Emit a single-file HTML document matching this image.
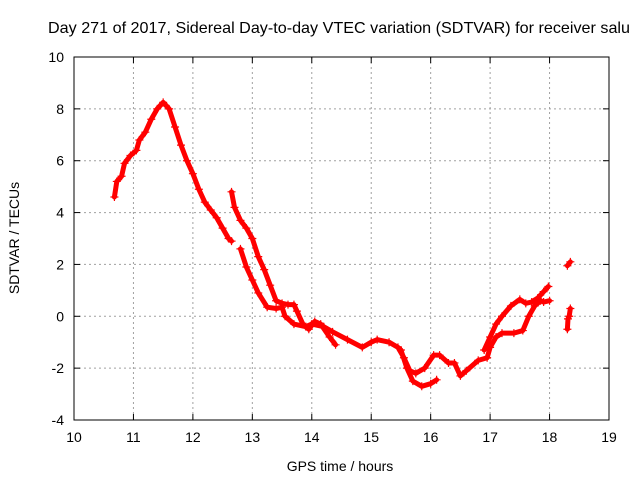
<!DOCTYPE html>
<html><head><meta charset="utf-8"><style>
html,body{margin:0;padding:0;background:#fff}
svg{display:block;font-family:"Liberation Sans",sans-serif}
</style></head><body>
<svg id="chart" width="640" height="480" viewBox="0 0 640 480" xmlns="http://www.w3.org/2000/svg">
<text x="48" y="33" font-size="16" textLength="582" lengthAdjust="spacingAndGlyphs" fill="#000">Day 271 of 2017, Sidereal Day-to-day VTEC variation (SDTVAR) for receiver salu</text>
<text x="340" y="471" font-size="14" text-anchor="middle">GPS time / hours</text>
<text transform="translate(19,238) rotate(-90)" font-size="14" text-anchor="middle">SDTVAR / TECUs</text>
<g id="grid"></g>
<g id="ticks"></g>
<g id="series"></g>
<rect x="74" y="57" width="535" height="363" fill="none" stroke="#000" stroke-width="1"/>
</svg>
<script>
const xTicks=[10,11,12,13,14,15,16,17,18,19];
const yTicks=[-4,-2,0,2,4,6,8,10];
const segA_t=[10.68,10.72,10.8,10.85,10.95,11.05,11.1,11.2,11.3,11.4,11.5,11.6,11.7,11.8,11.9,12.0,12.1,12.2,12.3,12.4,12.5,12.6,12.65];
const segA_v=[4.6,5.2,5.4,5.9,6.2,6.4,6.8,7.1,7.6,8.0,8.25,8.0,7.3,6.6,6.0,5.5,4.9,4.4,4.1,3.8,3.4,3.0,2.9];
const segB_t=[12.65,12.7,12.8,12.9,13.0,13.1,13.2,13.3,13.4,13.5,13.6,13.7,13.75,13.85,13.95,14.05,14.15,14.3,14.4];
const segB_v=[4.8,4.2,3.7,3.4,3.0,2.3,1.8,1.2,0.6,0.5,0.45,0.45,0.2,-0.3,-0.5,-0.2,-0.3,-0.8,-1.1];
const segC_t=[12.8,12.9,13.0,13.1,13.25,13.4,13.5,13.55,13.7,13.9,14.0,14.2,14.35,14.6,14.85,15.0,15.1,15.3,15.45,15.55,15.65,15.75,15.9,16.05,16.15,16.3,16.4,16.5,16.6,16.8,16.95,17.0,17.1,17.2,17.4,17.55,17.65,17.75,17.85,17.9,18.0];
const segC_v=[2.6,1.9,1.4,0.9,0.35,0.3,0.35,0.0,-0.3,-0.4,-0.3,-0.4,-0.6,-0.9,-1.2,-1.0,-0.9,-1.0,-1.2,-1.6,-2.1,-2.2,-2.0,-1.5,-1.5,-1.8,-1.8,-2.3,-2.1,-1.7,-1.6,-1.2,-0.8,-0.65,-0.65,-0.55,0.0,0.4,0.6,0.55,0.6];
const segD_t=[15.5,15.6,15.7,15.85,16.0,16.1];
const segD_v=[-1.3,-2.0,-2.5,-2.7,-2.6,-2.45];
const segE_t=[16.9,17.0,17.1,17.2,17.35,17.5,17.6,17.7,17.8,17.9,17.98];
const segE_v=[-1.3,-0.8,-0.3,0.0,0.4,0.65,0.5,0.55,0.7,0.95,1.15];
const segF_t=[18.3,18.35];
const segF_v=[1.95,2.1];
const segG_t=[18.3,18.31,18.33,18.35];
const segG_v=[-0.5,-0.1,0.0,0.3];
const segments=[[segA_t,segA_v],[segB_t,segB_v],[segC_t,segC_v],[segD_t,segD_v],[segE_t,segE_v],[segF_t,segF_v],[segG_t,segG_v]];
const X0=74,X1=609,Y0=420,Y1=57;
const xs=t=>X0+(t-10)/9*(X1-X0);
const ys=v=>Y0-(v+4)/14*(Y0-Y1);
const NS="http://www.w3.org/2000/svg";
function mk(tag,attrs,parent){const e=document.createElementNS(NS,tag);for(const k in attrs)e.setAttribute(k,attrs[k]);parent.appendChild(e);return e;}
const grid=document.getElementById('grid'),ticks=document.getElementById('ticks'),series=document.getElementById('series');
xTicks.forEach(t=>{const x=xs(t);
 if(t>10&&t<19){const g=mk('line',{x1:x,y1:Y1,x2:x,y2:Y0,stroke:'#a0a0a0','stroke-dasharray':'2,3'},grid);
 
 }
 mk('line',{x1:x,y1:Y0,x2:x,y2:Y0-6,stroke:'#000'},ticks);
 mk('line',{x1:x,y1:Y1,x2:x,y2:Y1+6,stroke:'#000'},ticks);
 const l=mk('text',{x:x,y:442,'font-size':14,'text-anchor':'middle'},ticks);l.textContent=t;
 
 });
yTicks.forEach(v=>{const y=ys(v);
 if(v>-4&&v<10){const g=mk('line',{x1:X0,y1:y,x2:X1,y2:y,stroke:'#a0a0a0','stroke-dasharray':'2,3'},grid);
 
 }
 mk('line',{x1:X0,y1:y,x2:X0+6,y2:y,stroke:'#000'},ticks);
 mk('line',{x1:X1,y1:y,x2:X1-6,y2:y,stroke:'#000'},ticks);
 const l=mk('text',{x:64,y:y+5,'font-size':14,'text-anchor':'end'},ticks);l.textContent=v;
 
 });
segments.forEach(([T,V],si)=>{
 const pts=T.map((t,i)=>xs(t)+','+ys(V[i])).join(' ');
 const pl=mk('polyline',{points:pts,fill:'none',stroke:'#ff0000','stroke-width':5,'stroke-linejoin':'round','stroke-linecap':'round'},series);
 
 
 T.forEach((t,i)=>{const x=xs(t),y=ys(V[i]);
  const p=mk('path',{d:`M${x-4},${y}H${x+4}M${x},${y-4}V${y+4}`,stroke:'#ff0000','stroke-width':1.2},series);
  
  });
});
</script>
</body></html>
